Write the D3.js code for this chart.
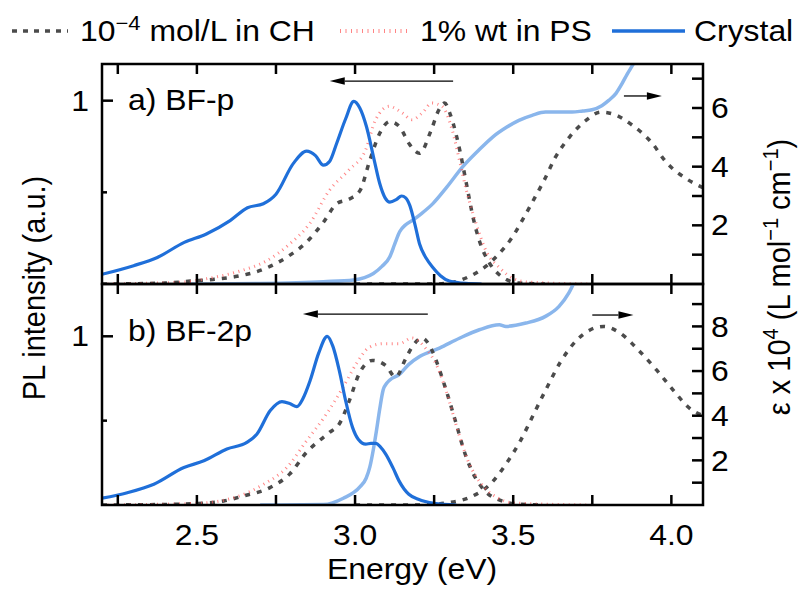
<!DOCTYPE html>
<html>
<head>
<meta charset="utf-8">
<script src="https://cdn.jsdelivr.net/npm/d3@7"></script>
<style>
  body { margin: 0; background: #fff; }
  text { font-family: "Liberation Sans", Arial, sans-serif; fill: #000; }
</style>
</head>
<body>
<svg id="chart" width="800" height="590"></svg>
<script>
// ---- Spectra: [energy (eV), value] ----
// (a) BF-p : photoluminescence (left axis, normalised)
const crystalPL_a = [[2.20,0.053],[2.30,0.10],[2.375,0.145],[2.46,0.227],[2.53,0.273],[2.605,0.346],[2.66,0.416],[2.71,0.438],[2.75,0.49],[2.805,0.658],[2.847,0.725],[2.875,0.70],[2.90,0.648],[2.92,0.67],[2.942,0.768],[2.97,0.90],[2.996,0.996],[3.015,0.96],[3.036,0.859],[3.06,0.68],[3.078,0.548],[3.095,0.47],[3.11,0.447],[3.13,0.46],[3.147,0.48],[3.16,0.47],[3.173,0.429],[3.19,0.32],[3.204,0.218],[3.225,0.14],[3.246,0.09],[3.27,0.045],[3.298,0.016],[3.35,0.003],[3.40,0]];
const solutionPL_a = [[2.20,0],[2.40,0.005],[2.48,0.016],[2.55,0.025],[2.627,0.042],[2.71,0.08],[2.783,0.145],[2.846,0.227],[2.90,0.337],[2.942,0.438],[2.984,0.465],[3.016,0.511],[3.047,0.676],[3.078,0.822],[3.11,0.886],[3.14,0.859],[3.173,0.76],[3.204,0.713],[3.241,0.841],[3.265,0.95],[3.283,0.987],[3.30,0.93],[3.31,0.877],[3.331,0.73],[3.352,0.548],[3.373,0.364],[3.393,0.236],[3.424,0.117],[3.45,0.06],[3.477,0.026],[3.52,0.005],[3.60,0]];
const filmPL_a = [[2.20,0],[2.45,0.01],[2.55,0.035],[2.637,0.071],[2.72,0.126],[2.793,0.218],[2.856,0.328],[2.919,0.511],[2.98,0.621],[3.033,0.73],[3.065,0.896],[3.108,0.969],[3.15,0.932],[3.18,0.896],[3.212,0.932],[3.243,0.987],[3.275,0.969],[3.307,0.841],[3.33,0.676],[3.352,0.511],[3.383,0.328],[3.414,0.181],[3.456,0.09],[3.50,0.03],[3.55,0.01],[3.75,0]];
// (a) BF-p : absorption (right axis, ε × 10^4)
const solutionAbs_a = [[3.00,0],[3.25,0],[3.318,0.08],[3.36,0.25],[3.412,0.59],[3.456,1.04],[3.498,1.61],[3.529,2.18],[3.561,2.8],[3.598,3.54],[3.634,4.33],[3.678,5.01],[3.73,5.58],[3.777,5.86],[3.814,5.8],[3.877,5.41],[3.94,4.79],[3.983,4.16],[4.046,3.6],[4.10,3.28]];
const crystalAbs_a = [[2.48,0],[2.70,0.02],[2.90,0.08],[2.995,0.14],[3.03,0.22],[3.058,0.36],[3.085,0.6],[3.11,0.93],[3.125,1.35],[3.141,1.78],[3.16,2.02],[3.183,2.18],[3.21,2.4],[3.246,2.74],[3.29,3.3],[3.34,3.99],[3.39,4.55],[3.435,5.01],[3.48,5.35],[3.518,5.58],[3.56,5.75],[3.602,5.86],[3.65,5.86],[3.686,5.86],[3.72,5.9],[3.749,5.94],[3.78,6.08],[3.802,6.26],[3.825,6.5],[3.844,6.83],[3.86,7.15],[3.877,7.45],[3.90,7.9]];

// (b) BF-2p : photoluminescence
const crystalPL_b = [[2.20,0.04],[2.28,0.073],[2.364,0.123],[2.459,0.222],[2.522,0.262],[2.595,0.332],[2.658,0.371],[2.69,0.421],[2.732,0.56],[2.769,0.613],[2.795,0.60],[2.816,0.583],[2.835,0.63],[2.858,0.738],[2.885,0.90],[2.912,1.0],[2.93,0.94],[2.95,0.798],[2.97,0.62],[2.992,0.46],[3.01,0.39],[3.034,0.361],[3.05,0.365],[3.065,0.365],[3.08,0.345],[3.097,0.302],[3.12,0.22],[3.139,0.143],[3.155,0.095],[3.17,0.064],[3.20,0.034],[3.25,0.01],[3.32,0]];
const solutionPL_b = [[2.20,0],[2.45,0.005],[2.49,0.008],[2.585,0.024],[2.648,0.054],[2.731,0.103],[2.793,0.183],[2.846,0.311],[2.919,0.43],[2.95,0.48],[2.982,0.619],[3.013,0.778],[3.055,0.857],[3.097,0.827],[3.128,0.758],[3.16,0.867],[3.18,0.936],[3.212,0.99],[3.243,0.917],[3.264,0.817],[3.285,0.698],[3.317,0.5],[3.348,0.302],[3.38,0.163],[3.411,0.083],[3.464,0.024],[3.52,0.005],[3.60,0]];
const filmPL_b = [[2.20,0],[2.50,0.01],[2.617,0.043],[2.711,0.123],[2.784,0.222],[2.847,0.381],[2.91,0.54],[2.962,0.698],[3.004,0.837],[3.046,0.936],[3.088,0.956],[3.14,0.956],[3.18,0.99],[3.22,0.936],[3.26,0.82],[3.294,0.639],[3.325,0.44],[3.357,0.262],[3.40,0.123],[3.45,0.043],[3.50,0.012],[3.75,0]];
// (b) BF-2p : absorption
const solutionAbs_b = [[3.00,0],[3.20,0],[3.294,0.1],[3.367,0.37],[3.43,0.97],[3.482,1.94],[3.524,2.91],[3.566,4.11],[3.608,5.3],[3.65,6.42],[3.702,7.4],[3.744,7.85],[3.786,8.0],[3.838,7.7],[3.90,6.88],[3.953,6.05],[4.005,5.16],[4.058,4.33],[4.10,4.0]];
const crystalAbs_b = [[2.70,0],[2.90,0.02],[2.963,0.3],[3.016,0.82],[3.035,1.2],[3.047,1.72],[3.058,2.5],[3.068,3.36],[3.078,4.3],[3.089,5.16],[3.10,5.45],[3.11,5.6],[3.14,5.85],[3.17,6.3],[3.204,6.65],[3.267,7.03],[3.33,7.47],[3.393,7.85],[3.456,8.07],[3.477,8.0],[3.54,8.15],[3.602,8.45],[3.645,8.9],[3.676,9.5],[3.70,10.2]];

// ---- Axes ----
const energyTicks = [2.25,2.5,2.75,3.0,3.25,3.5,3.75,4.0];
const energyLabels = [2.5,3.0,3.5,4.0];
const plTickMajor = [1];
const plTickMinor = [0.5];
const absTicks_a = [1,2,3,4,5,6,7];
const absLabels_a = [2,4,6];
const absTicks_b = [1,2,3,4,5,6,7,8,9];
const absLabels_b = [2,4,6,8];

// Arrows pointing to the axis each family belongs to: [[E0, v0], [E1, v1]]
const arrowPL_a = [[3.31,1.107],[2.92,1.107]];
const arrowAbs_a = [[3.85,6.41],[3.97,6.41]];
const arrowPL_b = [[3.23,1.132],[2.835,1.132]];
const arrowAbs_b = [[3.75,8.51],[3.88,8.51]];

const legendLabels = ["mol/L in CH", "1% wt in PS", "Crystal"];

// ---- Layout ----
const svg = d3.select("#chart");
const L = 102, R = 703;
const FS = 29, SUP = 20;
const SX = 1.1;   // glyphs are drawn slightly wide
const C_DARK = "#1f6fd9", C_LIGHT = "#8ab6ec", C_GRAY = "#4b4b4b", C_RED = "#ff5c5c";

// Horizontal text, widened about its anchor point
function htext(parent, xPos, yPos, anchor) {
  return parent.append("g").attr("transform", `translate(${xPos},${yPos}) scale(${SX},1)`)
    .append("text").attr("text-anchor", anchor || "start").attr("font-size", FS);
}
// Vertical text (reads bottom to top); glyphs widened across the line
function vtext(parent, xPos, yPos) {
  return parent.append("g").attr("transform", `translate(${xPos},${yPos}) rotate(-90) scale(1,${SX})`)
    .append("text").attr("text-anchor", "middle").attr("font-size", FS);
}

const x = d3.scaleLinear().domain([2.2, 4.1]).range([L, R]);

const panels = [
  { top: 64, bottom: 284, label: "a) BF-p", labelY: 110, plDom: [0, 1.2], absDom: [0, 7.5],
    absTicks: absTicks_a, absLabels: absLabels_a,
    crystalPL: crystalPL_a, solutionPL: solutionPL_a, filmPL: filmPL_a,
    solutionAbs: solutionAbs_a, crystalAbs: crystalAbs_a,
    arrowPL: arrowPL_a, arrowAbs: arrowAbs_a },
  { top: 284, bottom: 505, label: "b) BF-2p", labelY: 341, plDom: [0, 1.31], absDom: [0, 9.9],
    absTicks: absTicks_b, absLabels: absLabels_b,
    crystalPL: crystalPL_b, solutionPL: solutionPL_b, filmPL: filmPL_b,
    solutionAbs: solutionAbs_b, crystalAbs: crystalAbs_b,
    arrowPL: arrowPL_b, arrowAbs: arrowAbs_b }
];

const defs = svg.append("defs");

panels.forEach((p, i) => {
  const yPL = d3.scaleLinear().domain(p.plDom).range([p.bottom, p.top]);
  const yAbs = d3.scaleLinear().domain(p.absDom).range([p.bottom, p.top]);
  const g = svg.append("g");

  defs.append("clipPath").attr("id", "clip" + i)
    .append("rect").attr("x", L).attr("y", p.top).attr("width", R - L).attr("height", p.bottom - p.top);
  const plot = g.append("g").attr("clip-path", `url(#clip${i})`);

  const linePL = d3.line().x(d => x(d[0])).y(d => yPL(d[1])).curve(d3.curveMonotoneX);
  const lineAbs = d3.line().x(d => x(d[0])).y(d => yAbs(d[1])).curve(d3.curveMonotoneX);

  plot.append("path").attr("d", lineAbs(p.crystalAbs))
    .attr("fill", "none").attr("stroke", C_LIGHT).attr("stroke-width", 3.5);
  plot.append("path").attr("d", lineAbs(p.solutionAbs))
    .attr("fill", "none").attr("stroke", C_GRAY).attr("stroke-width", 3.5).attr("stroke-dasharray", "5,7");
  plot.append("path").attr("d", linePL(p.solutionPL))
    .attr("fill", "none").attr("stroke", C_GRAY).attr("stroke-width", 3.5).attr("stroke-dasharray", "5,7");
  plot.append("path").attr("d", linePL(p.filmPL))
    .attr("fill", "none").attr("stroke", C_RED).attr("stroke-opacity", 0.75).attr("stroke-width", 3).attr("stroke-dasharray", "1,4.5");
  plot.append("path").attr("d", linePL(p.crystalPL))
    .attr("fill", "none").attr("stroke", C_DARK).attr("stroke-width", 3.2);

  // Ticks: energy on both horizontal edges, inward
  const tk = g.append("g").attr("stroke", "#000").attr("stroke-width", 2.5);
  energyTicks.forEach(e => {
    tk.append("line").attr("x1", x(e)).attr("x2", x(e)).attr("y1", p.top).attr("y2", p.top + 10);
    tk.append("line").attr("x1", x(e)).attr("x2", x(e)).attr("y1", p.bottom).attr("y2", p.bottom - 10);
  });
  plTickMajor.forEach(v => tk.append("line").attr("x1", L).attr("x2", L + 11).attr("y1", yPL(v)).attr("y2", yPL(v)));
  plTickMinor.forEach(v => tk.append("line").attr("x1", L).attr("x2", L + 5).attr("y1", yPL(v)).attr("y2", yPL(v)));
  p.absTicks.forEach(v => tk.append("line").attr("x1", R).attr("x2", R - 11).attr("y1", yAbs(v)).attr("y2", yAbs(v)));

  plTickMajor.forEach(v => htext(g, 89, yPL(v), "end").attr("dy", "0.35em").text(v));
  p.absLabels.forEach(v => htext(g, 711, yAbs(v)).attr("dy", "0.35em").text(v));

  // Frame
  g.append("rect").attr("x", L).attr("y", p.top).attr("width", R - L).attr("height", p.bottom - p.top)
    .attr("fill", "none").attr("stroke", "#000").attr("stroke-width", 2.5);

  htext(g, 128, p.labelY).text(p.label);

  // Arrows
  const arrow = (pts, ys) => {
    const x0 = x(pts[0][0]), y0 = ys(pts[0][1]), x1 = x(pts[1][0]);
    const dir = Math.sign(x1 - x0), head = 15;
    g.append("line").attr("x1", x0).attr("x2", x1 - dir * head).attr("y1", y0).attr("y2", y0)
      .attr("stroke", "#000").attr("stroke-width", 1.3);
    g.append("path").attr("d", `M${x1},${y0}L${x1 - dir * head},${y0 - 3.8}L${x1 - dir * head},${y0 + 3.8}Z`)
      .attr("fill", "#000");
  };
  arrow(p.arrowPL, yPL);
  arrow(p.arrowAbs, yAbs);
});

// Energy tick labels and title
energyLabels.forEach(e => htext(svg, x(e), 545, "middle").text(d3.format(".1f")(e)));
htext(svg, 412, 579, "middle").text("Energy (eV)");

// Left title
vtext(svg, 45, 288).text("PL intensity (a.u.)");

// Right title with superscripts
const rt = vtext(svg, 790, 277);
rt.append("tspan").text("ε x 10");
rt.append("tspan").attr("font-size", SUP).attr("dy", -11).text("4");
rt.append("tspan").attr("dy", 11).text(" (L mol");
rt.append("tspan").attr("font-size", SUP).attr("dy", -11).text("−1");
rt.append("tspan").attr("dy", 11).text(" cm");
rt.append("tspan").attr("font-size", SUP).attr("dy", -11).text("−1");
rt.append("tspan").attr("dy", 11).text(")");

// Legend
const lg = svg.append("g");
const ly = 31;
lg.append("line").attr("x1", 12).attr("x2", 68).attr("y1", ly).attr("y2", ly)
  .attr("stroke", C_GRAY).attr("stroke-width", 3.5).attr("stroke-dasharray", "5,6");
const t1 = htext(lg, 80, 41);
t1.append("tspan").text("10");
t1.append("tspan").attr("font-size", SUP).attr("dy", -11).text("−4");
t1.append("tspan").attr("dy", 11).text(" " + legendLabels[0]);

lg.append("line").attr("x1", 340).attr("x2", 409).attr("y1", ly).attr("y2", ly)
  .attr("stroke", C_RED).attr("stroke-opacity", 0.75).attr("stroke-width", 4).attr("stroke-dasharray", "1,4.5");
htext(lg, 420, 41).text(legendLabels[1]);

lg.append("line").attr("x1", 612).attr("x2", 685).attr("y1", ly).attr("y2", ly)
  .attr("stroke", C_DARK).attr("stroke-width", 3.5);
htext(lg, 694, 41).text(legendLabels[2]);
</script>
</body>
</html>
